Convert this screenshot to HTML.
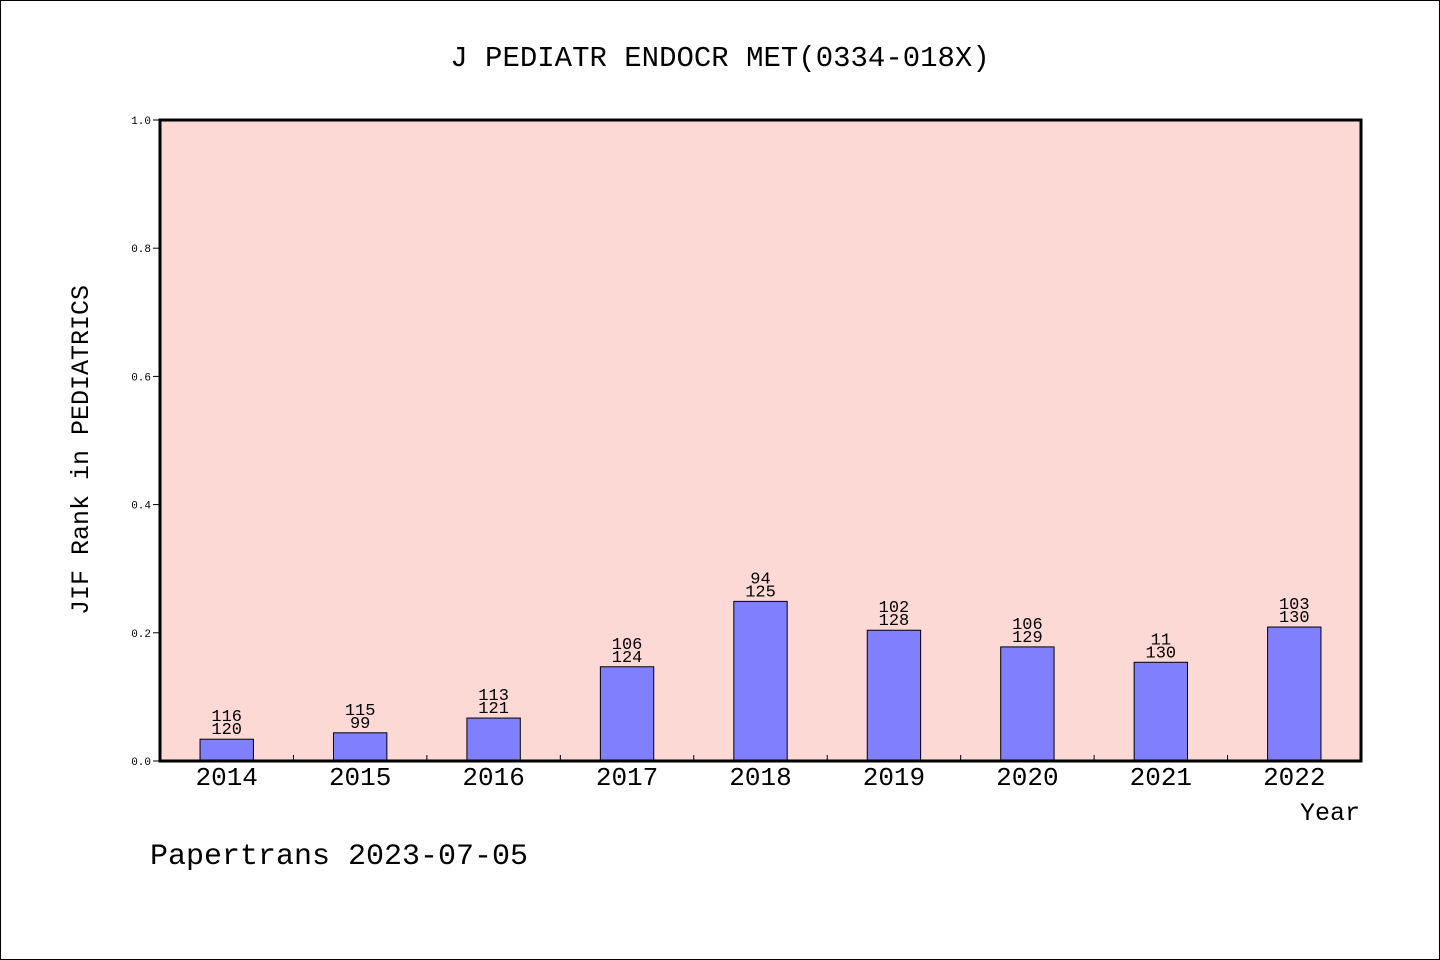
<!DOCTYPE html>
<html><head><meta charset="utf-8"><style>
html,body{margin:0;padding:0;background:#fff}
svg{display:block}
text{font-family:"Liberation Mono","WenQuanYi Zen Hei",monospace;fill:#000}
</style></head><body>
<svg id="chart" width="1440" height="960">
<rect x="0.5" y="0.5" width="1439" height="959" fill="#fff" stroke="#000"/>
<text x="720" y="66" font-size="29" text-anchor="middle">J PEDIATR ENDOCR MET(0334-018X)</text>
<rect x="160" y="120" width="1201" height="641" fill="#fdd9d6"/>
<g id="yaxis"></g>
<g id="bars"></g>
<g id="xaxis"></g>
<rect x="160" y="120" width="1201" height="641" fill="none" stroke="#000" stroke-width="3"/>
<text transform="translate(88,450) rotate(-90)" font-size="25" text-anchor="middle">JIF Rank in PEDIATRICS</text>
<text x="1360" y="820" font-size="25" text-anchor="end">Year</text>
<text x="150" y="864" font-size="30">Papertrans 2023-07-05</text>
</svg>
<script>
const years = ["2014","2015","2016","2017","2018","2019","2020","2021","2022"];
const values = [0.034, 0.044, 0.067, 0.147, 0.249, 0.204, 0.178, 0.154, 0.209];
const ranks = ["116","115","113","106","94","102","106","11","103"];
const totals = ["120","99","121","124","125","128","129","130","130"];
const yTicks = [0, 0.2, 0.4, 0.6, 0.8, 1.0];
const yTickLabels = ["0.0","0.2","0.4","0.6","0.8","1.0"];

const NS = "http://www.w3.org/2000/svg";
const X0 = 160, X1 = 1361, Y0 = 761, Y1 = 120;
const band = (X1 - X0) / years.length;
const xc = i => X0 + band * (i + 0.5);
const y = v => Y0 - (Y0 - Y1) * v;
function mk(tag, attrs, parent, txt) {
  const e = document.createElementNS(NS, tag);
  for (const k in attrs) e.setAttribute(k, attrs[k]);
  if (txt !== undefined) e.textContent = txt;
  parent.appendChild(e);
  return e;
}
const ya = document.getElementById("yaxis");
yTicks.forEach((t, i) => {
  const l = mk("line", {x1: 153, x2: 160, y1: y(t), y2: y(t), stroke: "#000"}, ya);
  
  
  const tx = mk("text", {x: 151, y: y(t) + 4, "font-size": 11, "text-anchor": "end"}, ya, yTickLabels[i]);
  
  
});
const xa = document.getElementById("xaxis");
for (let i = 1; i < years.length; i++) {
  const l = mk("line", {x1: X0 + band * i, x2: X0 + band * i, y1: Y0, y2: Y0 - 6, stroke: "#000"}, xa);
  
  
}
const bg = document.getElementById("bars");
const bw = band * 0.4;
years.forEach((yr, i) => {
  const top = y(values[i]);
  const r = mk("rect", {x: xc(i) - bw / 2, y: top, width: bw, height: Y0 - top, fill: "#8080ff", stroke: "#000", "stroke-width": 1}, bg);
  
  
  const a = mk("text", {x: xc(i), y: top - 18, "font-size": 17, "text-anchor": "middle"}, bg, ranks[i]);
  
  
  const b = mk("text", {x: xc(i), y: top - 5, "font-size": 17, "text-anchor": "middle"}, bg, totals[i]);
  
  
  const t = mk("text", {x: xc(i), y: 785, "font-size": 26, "text-anchor": "middle"}, xa, yr);
  
  
});
</script>
</body></html>
